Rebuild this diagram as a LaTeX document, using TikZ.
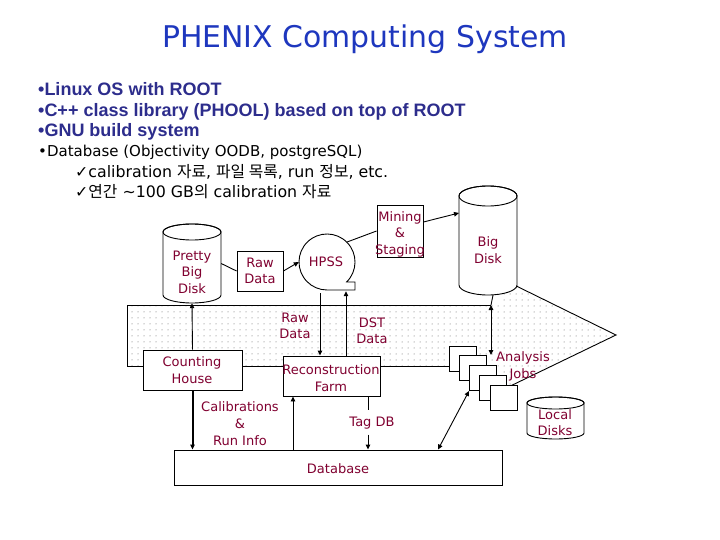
\documentclass[tikz,border=0pt]{standalone}
\usepackage{fontspec}
\setmainfont{DejaVu Sans}
\newfontfamily\arialb{Liberation Sans}
\newfontfamily\kr{Noto Sans CJK KR}
\usetikzlibrary{arrows.meta,patterns.meta,calc}
\definecolor{lab}{RGB}{128,0,48}
\definecolor{ttl}{RGB}{30,55,190}
\definecolor{bul}{RGB}{45,45,140}
\newcommand\mycyl[5]{%
  \path[draw,line width=0.9pt,fill=white] (#1,#3+#5) -- (#1,#4-#5)
    arc[start angle=180,end angle=0,x radius={(#2-#1)/2},y radius=#5]
    -- (#2,#3+#5)
    arc[start angle=0,end angle=-180,x radius={(#2-#1)/2},y radius=#5] -- cycle;
  \draw[line width=0.9pt] ({(#1+#2)/2},#3+#5) ellipse[x radius={(#2-#1)/2},y radius=#5];
}
\begin{document}
\begin{tikzpicture}[x=1pt,y=-1pt,
  lbl/.style={text=lab,font=\fontsize{13}{16.5}\selectfont,align=center,inner sep=0pt},
  box/.style={draw,line width=0.9pt,fill=white,inner sep=0pt},
  anchorbox/.style={inner sep=0pt,minimum width=#1},
  arr/.style={-{Triangle[length=5pt,width=4.5pt]},line width=0.9pt},
  darr/.style={{Triangle[length=5pt,width=4.5pt]}-{Triangle[length=5pt,width=4.5pt]},line width=0.9pt},
  ln/.style={line width=0.9pt},
  bline/.style={anchor=base west,text=bul,font=\arialb\bfseries\fontsize{18}{20}\selectfont,inner sep=0pt},
  nline/.style={anchor=base west,text=black,font=\fontsize{15}{18}\selectfont,inner sep=0pt},
  kline/.style={anchor=base west,text=black,font=\fontsize{15.8}{18}\selectfont,inner sep=0pt}]
\useasboundingbox (0,0) rectangle (720,540);

% title and text
\node[anchor=base,text=ttl,font=\fontsize{29.9}{34}\selectfont,inner sep=0pt] (title) at (365,48) {PHENIX Computing System};
\node[bline] (b1) at (38,96) {•Linux OS with ROOT};
\node[bline] (b2) at (38,117) {•C++ class library (PHOOL) based on top of ROOT};
\node[bline] (b3) at (38,137) {•GNU build system};
\node[nline] (b4) at (38,157) {•Database (Objectivity OODB, postgreSQL)};
\node[kline] (b5) at (75,178) {✓calibration {\kr 자료}, {\kr 파일 목록}, run {\kr 정보}, etc.};
\node[kline] (b6) at (75,197) {✓{\kr 연간} \textasciitilde100 GB{\kr 의} calibration {\kr 자료}};

% big dotted arrow
\coordinate (p1) at (127,305);
\coordinate (p2) at (500,305);
\coordinate (h1) at (500,278);
\coordinate (tip) at (616,335);
\coordinate (h2) at (500,391);
\coordinate (p3) at (500,366);
\coordinate (p4) at (127,366);
\fill[pattern={Dots[distance=6pt,radius=0.5pt]},pattern color=black!65]
  (p1) -- (p2) -- (h1) -- (tip) -- (h2) -- (p3) -- (p4) -- cycle;
\draw[ln] (491,305) -- (p1) -- (p4) -- (449,366);
\draw[ln] (h1) -- (tip) -- (h2);

% cylinders
\mycyl{163}{221}{224}{303}{8}
\mycyl{459}{517}{186}{295}{10}
\mycyl{527}{584}{397}{439}{6}
\node[anchorbox=58pt,minimum height=79pt] (pbd) at (192,263.5) {};
\node[anchorbox=58pt,minimum height=109pt] (bigdisk) at (488,240.5) {};
\node[anchorbox=57pt,minimum height=42pt] (local) at (555.5,418) {};

% HPSS tape symbol
\node[circle,inner sep=0pt,minimum size=56pt] (hpss) at (327,262) {};
\draw[ln,fill=white] (346.6,282) arc[start angle=45.6,end angle=-270,radius=28] -- (355,290) -- (355,282) -- cycle;

% boxes
\node[box,minimum width=46pt,minimum height=40pt] (rawbox) at (260,271) {};
\node[box,minimum width=46pt,minimum height=52pt] (mining) at (400,231) {};
\node[box,minimum width=99pt,minimum height=40pt] (counting) at (192.5,370) {};
\node[box,minimum width=97pt,minimum height=40pt] (recon) at (331.5,376) {};
\node[box,minimum width=328pt,minimum height=35pt] (database) at (338,467.5) {};
\foreach \k in {1,...,5}{
  \node[box,minimum width=27pt,minimum height=25pt] (j\k) at ({462.5+10.25*(\k-1)},{358.5+9.75*(\k-1)}) {};
}

% connectors
\draw[ln] (pbd.east) -- (rawbox.west);
\draw[arr] (rawbox.east) -- (hpss.west);
\draw[ln] (hpss.north east) -- (mining.west);
\draw[arr] ($(mining.north east)!0.33!(mining.south east)$) -- (459,213);
\draw[arr] ([xshift=-7pt,yshift=-3pt]hpss.south) -- ([xshift=-7pt]hpss.south |- recon.north);
\draw[arr] ([xshift=14.5pt]recon.north) -- ([xshift=14.5pt,yshift=-1pt]recon.north |- hpss.south);
\draw[arr] (counting.north) -- (pbd.south);
\draw[-{Triangle[length=5pt,width=4.5pt]},line width=2pt] (counting.south) -- (counting.south |- database.north);
\draw[arr] ([xshift=-38.5pt]recon.south |- database.north) -- ([xshift=-38.5pt]recon.south);
\node[lbl] (tagdb) at (372,423) {Tag DB};
\draw[ln] ([xshift=36.5pt]recon.south) -- ([xshift=36.5pt,yshift=-14pt]recon.south);
\draw[arr] ([xshift=36.5pt,yshift=15pt]recon.south |- database.north) -- ([xshift=36.5pt]recon.south |- database.north);
\draw[darr] ([xshift=100pt]database.north) -- (j3.south west);
\coordinate (bd1) at (491,305);
\coordinate (bd2) at (491,355);
\draw[ln] ([xshift=5pt]bigdisk.south) -- (bd1);
\draw[darr] (bd1) -- (bd2);

% labels
\node[lbl] at (192,272) {Pretty\\Big\\Disk};
\node[lbl,font=\fontsize{13}{16}\selectfont] at (260,271) {Raw\\Data};
\node[lbl] at (326,262) {HPSS};
\node[lbl] at (400,234) {Mining\\\&\\Staging};
\node[lbl] at (488,250) {Big\\Disk};
\node[lbl] at (295,326) {Raw\\Data};
\node[lbl] at (372,331) {DST\\Data};
\node[lbl,font=\fontsize{13}{17}\selectfont] at (192,370.5) {Counting\\House};
\node[lbl,font=\fontsize{13}{17}\selectfont] at (331,378.5) {Reconstruction\\Farm};
\node[lbl,font=\fontsize{13}{17}\selectfont] at (240,424) {Calibrations\\\&\\Run Info};
\node[lbl] at (338,469) {Database};
\node[lbl,font=\fontsize{13}{17}\selectfont] at (523,366.5) {Analysis\\Jobs};
\node[lbl] at (555,422.5) {Local\\Disks};
\end{tikzpicture}
\end{document}
